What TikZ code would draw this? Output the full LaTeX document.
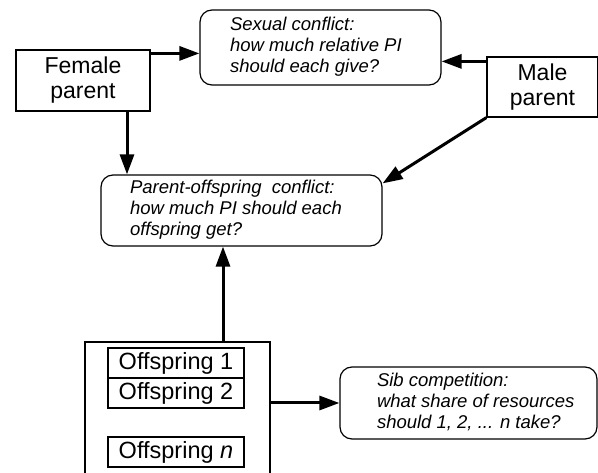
\documentclass[tikz,border=0pt]{standalone}
\usepackage{fontspec}
\setmainfont{Liberation Sans}
\usetikzlibrary{arrows.meta,calc}
\newcommand{\qtext}[4]{\makebox[#1][l]{\hspace*{#2}\raisebox{#3}{\begin{tabular}{@{}l@{}}#4\end{tabular}}}}
\begin{document}
\begin{tikzpicture}[x=1pt,y=-1pt,
  box/.style={draw, line width=1.2pt, inner sep=0pt, font=\fontsize{23}{25}\selectfont, align=center},
  qbox/.style={draw, line width=1.2pt, rounded corners=12pt, inner sep=0pt, font=\fontsize{18.5}{21}\selectfont\itshape},
  obox/.style={draw, line width=1.2pt, inner sep=0pt, minimum width=136pt, minimum height=30pt, font=\fontsize{23.5}{24}\selectfont},
  arr/.style={line width=3pt, -{Triangle[length=20pt,width=14pt]}},
]
\useasboundingbox (0,0) rectangle (598,473);
\clip (0,0) rectangle (598,473);
\node[box, minimum width=134pt, minimum height=61pt] (female) at (83,80.5) {Female\\parent};
\node[box, minimum width=111pt, minimum height=60pt] (male) at (542.5,87) {Male\\parent};
\node[qbox, minimum height=75pt] (sex) at (320.5,47.5)
  {\qtext{241pt}{30pt}{-2pt}{Sexual conflict:\\how much relative PI\\should each give?}};
\node[qbox, minimum height=71pt] (po) at (241.5,210.5)
  {\qtext{281pt}{29pt}{-2.5pt}{Parent-offspring\ \ conflict:\\how much PI should each\\offspring get?}};
\node[qbox, minimum height=72pt] (sib) at (468.5,403)
  {\qtext{257pt}{37pt}{0pt}{Sib competition:\\what share of resources\\should 1, 2, ... n take?}};
\node[draw, line width=1.2pt, minimum width=185pt, minimum height=148pt, inner sep=0pt] (off) at (177.5,416) {};
\node[obox] (off1) at (176,363) {Offspring 1};
\node[obox] (off2) at (176,393) {Offspring 2};
\node[obox] (offn) at (176,452) {Offspring \textit{n}};
\draw[arr] ([yshift=-4pt]female.north east) -- ([yshift=-4pt]female.north east -| sex.west);
\draw[arr] ([yshift=-5pt]male.north west) -- ([yshift=-5pt]male.north west -| sex.east);
\draw[arr] ([xshift=44pt]female.south) -- ([xshift=44pt]female.south |- po.north);
\draw[arr] (male.south west) -- ([yshift=-9pt]po.north east);
\draw[arr] ([xshift=45.5pt]off.north) -- ([xshift=45.5pt]off.north |- po.south);
\draw[arr] (off.east |- sib.west) -- (sib.west);
\end{tikzpicture}
\end{document}
